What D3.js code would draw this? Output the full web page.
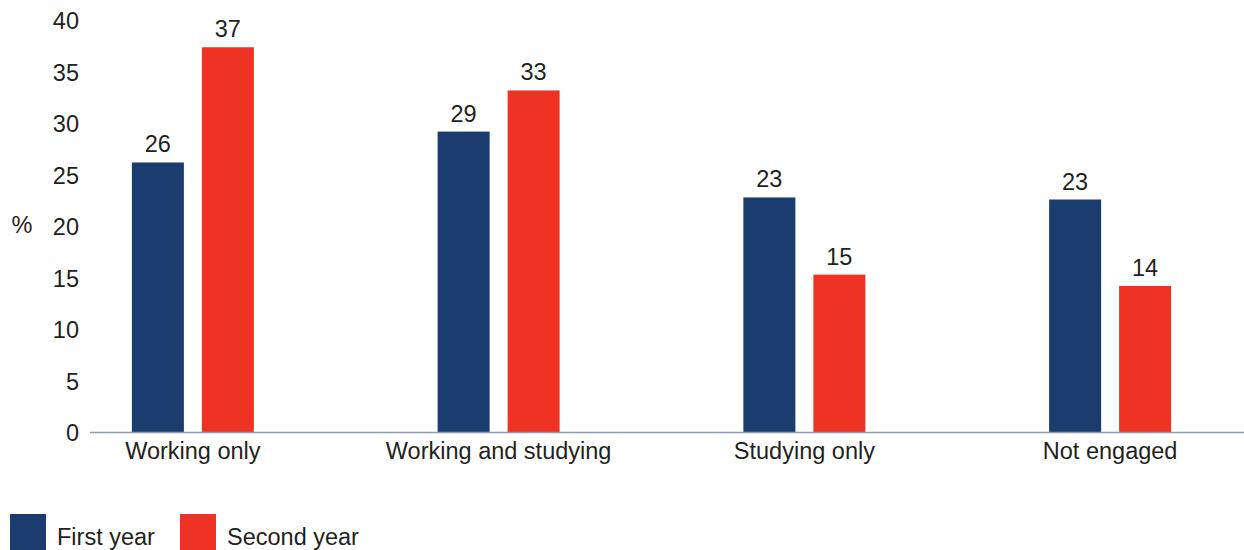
<!DOCTYPE html>
<html>
<head>
<meta charset="utf-8">
<script src="https://cdn.jsdelivr.net/npm/d3@7"></script>
<style>
  html, body { margin: 0; padding: 0; background: #fff; }
  svg { display: block; font-family: "Liberation Sans", Arial, Helvetica, sans-serif; }
</style>
</head>
<body>
<svg id="chart" width="1244" height="550"></svg>
<script>
const categories = ["Working only", "Working and studying", "Studying only", "Not engaged"];
const seriesNames = ["First year", "Second year"];
const firstYear = [26.2, 29.2, 22.8, 22.6];
const secondYear = [37.4, 33.2, 15.3, 14.2];
const labelsFirst = ["26", "29", "23", "23"];
const labelsSecond = ["37", "33", "15", "14"];
const yTicks = [0, 5, 10, 15, 20, 25, 30, 35, 40];
const colors = ["#1b3c6e", "#ee3224"];

const svg = d3.select("#chart");
const textColor = "#231f20";
const fs = "23.5px";

const y = d3.scaleLinear().domain([0, 40]).range([432, 20.5]);
const x0 = d3.scaleBand().domain(categories).range([40, 1263]).padding(0);
const x1 = d3.scaleBand().domain(seriesNames).range([-61, 61]).paddingInner(0.257).paddingOuter(0);

const seriesValues = [firstYear, secondYear];
const seriesLabels = [labelsFirst, labelsSecond];

// y tick labels (no axis line)
const yAxis = d3.axisLeft(y).tickValues(yTicks).tickSize(0).tickPadding(0);
const gy = svg.append("g").attr("transform", "translate(79,0)").call(yAxis);
gy.select(".domain").remove();
gy.selectAll("text")
  .attr("fill", textColor)
  .style("font-size", fs)
  .style("font-family", "'Liberation Sans', Arial, sans-serif")
  .attr("dy", "0.36em");

// % label
svg.append("text")
  .attr("x", 22).attr("y", 233)
  .attr("text-anchor", "middle")
  .attr("fill", textColor)
  .style("font-size", fs)
  .text("%");

// bars
categories.forEach((cat, i) => {
  const cx = x0(cat) + x0.bandwidth() / 2;
  seriesNames.forEach((s, j) => {
    const v = seriesValues[j][i];
    svg.append("rect")
      .attr("x", cx + x1(s))
      .attr("y", y(v))
      .attr("width", x1.bandwidth())
      .attr("height", y(0) - y(v))
      .attr("fill", colors[j]);
    svg.append("text")
      .attr("x", cx + x1(s) + x1.bandwidth() / 2)
      .attr("y", y(v) - 10)
      .attr("text-anchor", "middle")
      .attr("fill", textColor)
      .style("font-size", fs)
      .text(seriesLabels[j][i]);
  });
});

// x axis
const xAxis = d3.axisBottom(x0).tickSize(0).tickPadding(0);
const gx = svg.append("g").attr("transform", `translate(0,${y(0)})`).call(xAxis);
gx.select(".domain").remove();
gx.selectAll("text")
  .attr("fill", textColor)
  .attr("dy", "27px")
  .style("font-size", fs)
  .style("font-family", "'Liberation Sans', Arial, sans-serif");
svg.append("line")
  .attr("x1", 90).attr("x2", 1244)
  .attr("y1", y(0) + 0.5).attr("y2", y(0) + 0.5)
  .attr("stroke", "#8f9db2")
  .attr("stroke-width", 1.5);

// legend
const legendX = [10, 180];
seriesNames.forEach((s, j) => {
  const g = svg.append("g").attr("transform", `translate(${legendX[j]},514)`);
  g.append("rect").attr("width", 36).attr("height", 36).attr("fill", colors[j]);
  g.append("text")
    .attr("x", 47).attr("y", 31)
    .attr("fill", textColor)
    .style("font-size", fs)
    .text(s);
});
</script>
</body>
</html>
